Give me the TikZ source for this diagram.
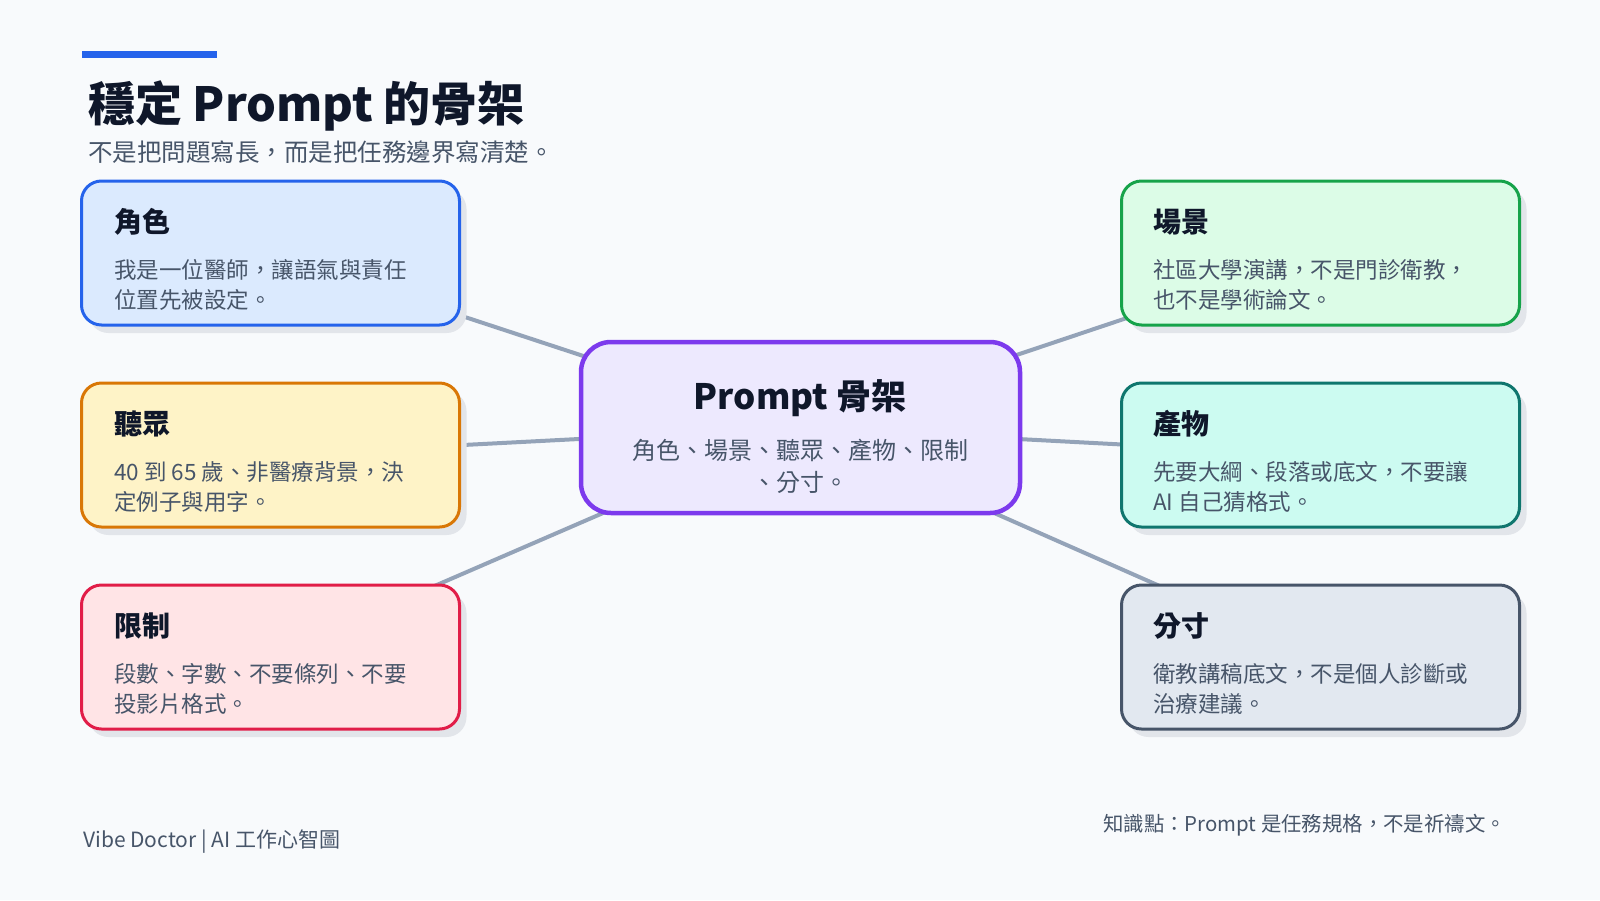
\documentclass[tikz,border=0pt]{standalone}
\usepackage{fontspec}
\setmainfont{Noto Sans CJK TC}
\pgfdeclarelayer{bg}
\pgfdeclarelayer{lines}
\pgfsetlayers{bg,lines,main}
\definecolor{pagebg}{HTML}{F8FAFC}
\definecolor{barc}{HTML}{2563EB}
\definecolor{ink}{HTML}{0F172A}
\definecolor{body}{HTML}{475569}
\definecolor{linkc}{HTML}{94A3B8}
\definecolor{shadowc}{HTML}{E2E5EA}
\definecolor{roleF}{HTML}{DBEAFE}\definecolor{roleD}{HTML}{2563EB}
\definecolor{audF}{HTML}{FEF3C7}\definecolor{audD}{HTML}{D97706}
\definecolor{limF}{HTML}{FFE4E6}\definecolor{limD}{HTML}{E11D48}
\definecolor{sceF}{HTML}{DCFCE7}\definecolor{sceD}{HTML}{16A34A}
\definecolor{outF}{HTML}{CCFBF1}\definecolor{outD}{HTML}{0F766E}
\definecolor{tonF}{HTML}{E2E8F0}\definecolor{tonD}{HTML}{475569}
\definecolor{coreF}{HTML}{EDE9FE}\definecolor{coreD}{HTML}{7C3AED}
\tikzset{
  card/.style={rounded corners=20pt, line width=3pt, minimum width=378pt,
    minimum height=144pt, inner sep=0pt,
    preaction={fill=shadowc, transform canvas={shift={(7pt,-8pt)}}}},
  wide/.style={minimum width=398pt},
  cardtitle/.style={anchor=west, inner sep=0pt, text=ink,
    font=\bfseries\fontsize{28}{34}\selectfont},
  cardbody/.style={anchor=west, inner sep=0pt, align=left, text=body,
    font=\fontsize{22.5}{30}\selectfont},
  link/.style={draw=linkc, line width=4pt},
}
\begin{document}
\begin{tikzpicture}[x=1pt,y=-1pt]
\begin{pgfonlayer}{bg}
\fill[pagebg] (0,0) rectangle (1600,900);
\end{pgfonlayer}
\useasboundingbox (0,0) rectangle (1600,900);

% header
\fill[barc] (82,51) rectangle (217,58);
\node[anchor=west, inner sep=0pt, text=ink, font=\bfseries\fontsize{47}{54}\selectfont] (title) at (88,106) {穩定 Prompt 的骨架};
\node[anchor=west, inner sep=0pt, text=body, font=\fontsize{24.5}{30}\selectfont] (subtitle) at (88,152) {不是把問題寫長，而是把任務邊界寫清楚。};

% center
\node[draw=coreD, fill=coreF, line width=4.5pt, rounded corners=30pt, minimum width=439pt, minimum height=171pt, inner sep=0pt] (core) at (800.5,427.5) {};
\node[inner sep=0pt, text=ink, font=\bfseries\fontsize{35}{42}\selectfont] (coreT) at (800,398) {Prompt 骨架};
\node[inner sep=0pt, align=center, text=body, font=\fontsize{24}{32}\selectfont] (coreB) at (800,466) {角色、場景、聽眾、產物、限制\\、分寸。};

% left cards
\node[card, fill=roleF, draw=roleD] (role) at (270.5,253) {};
\node[cardtitle] (roleT) at (114,222) {角色};
\node[cardbody] (roleX) at (114,285) {我是一位醫師，讓語氣與責任\\位置先被設定。};

\node[card, fill=audF, draw=audD] (aud) at (270.5,455) {};
\node[cardtitle] (audT) at (114,424) {聽眾};
\node[cardbody] (audX) at (114,487) {40 到 65 歲、非醫療背景，決\\定例子與用字。};

\node[card, fill=limF, draw=limD] (lim) at (270.5,657) {};
\node[cardtitle] (limT) at (114,626) {限制};
\node[cardbody] (limX) at (114,689) {段數、字數、不要條列、不要\\投影片格式。};

% right cards
\node[card, wide, fill=sceF, draw=sceD] (sce) at (1320.5,253) {};
\node[cardtitle] (sceT) at (1153,222) {場景};
\node[cardbody] (sceX) at (1153,285) {社區大學演講，不是門診衛教，\\也不是學術論文。};

\node[card, wide, fill=outF, draw=outD] (out) at (1320.5,455) {};
\node[cardtitle] (outT) at (1153,424) {產物};
\node[cardbody] (outX) at (1153,487) {先要大綱、段落或底文，不要讓\\AI 自己猜格式。};

\node[card, wide, fill=tonF, draw=tonD] (ton) at (1320.5,657) {};
\node[cardtitle] (tonT) at (1153,626) {分寸};
\node[cardbody] (tonX) at (1153,689) {衛教講稿底文，不是個人診斷或\\治療建議。};

% connectors
\begin{pgfonlayer}{lines}
\draw[link] (core.center) -- (role.center);
\draw[link] (core.center) -- (aud.center);
\draw[link] (core.center) -- (lim.center);
\draw[link] (core.center) -- (sce.center);
\draw[link] (core.center) -- (out.center);
\draw[link] (core.center) -- (ton.center);
\end{pgfonlayer}

% footer
\node[anchor=west, inner sep=0pt, text=body, font=\fontsize{21}{24}\selectfont] (footL) at (83,842) {Vibe Doctor | AI 工作心智圖};
\node[anchor=west, inner sep=0pt, text=body, font=\fontsize{20.4}{24}\selectfont] (footR) at (1103,825) {知識點：Prompt 是任務規格，不是祈禱文。};
\end{tikzpicture}
\end{document}
